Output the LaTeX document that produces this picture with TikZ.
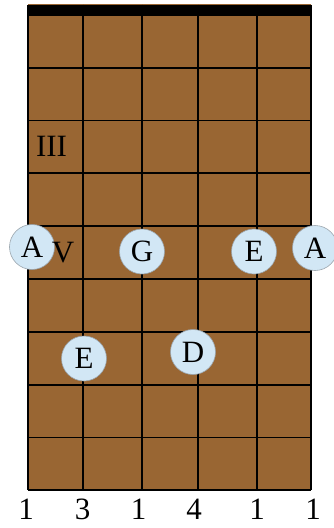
\documentclass[tikz,border=0pt]{standalone}
\usepackage{fontspec}
\setmainfont{Liberation Serif}
\definecolor{wood}{HTML}{996633}
\definecolor{notefill}{HTML}{D2E7F5}
\definecolor{noteline}{HTML}{9AA4AC}
\begin{document}
\begin{tikzpicture}[x=1pt,y=-1pt,
  gridline/.style={black,line width=1.7pt},
  note/.style={circle,fill=notefill,draw=noteline,line width=0.6pt,minimum size=45pt,inner sep=0pt,font=\fontsize{31}{31}\selectfont},
  lbl/.style={inner sep=0pt,font=\fontsize{31}{31}\selectfont}]
\useasboundingbox (0,0) rectangle (334,528);
\fill[wood] (28,4) rectangle (311.3,490);
% frets
\foreach \y in {68,120.5,173,226,279,332,385,437.5,490}
  \draw[gridline] (28,\y) -- (311.3,\y);
% strings
\foreach \x in {28,83.3,142.3,198.3,257.3,311.3}
  \draw[gridline] (\x,4.5) -- (\x,490);
% nut
\fill[black] (27.2,5) rectangle (312.1,15.5);
% position labels
\node[lbl] (pos3) at (51.5,146) {III};
% notes
\node[note] (nA1) at (32,247) {A};
\node[lbl] (pos5) at (63,252.5) {V};
\node[note] (nG) at (142,251.5) {G};
\node[note] (nE1) at (254,251.5) {E};
\node[note] (nA2) at (315,248) {A};
\node[note] (nE2) at (84,358.5) {E};
\node[note] (nD) at (193,352) {D};
% fingers
\node[lbl,anchor=base] (f1) at (26,519) {1};
\node[lbl,anchor=base] (f2) at (82.5,519) {3};
\node[lbl,anchor=base] (f3) at (138.5,519) {1};
\node[lbl,anchor=base] (f4) at (194,519) {4};
\node[lbl,anchor=base] (f5) at (257,519) {1};
\node[lbl,anchor=base] (f6) at (313,519) {1};
\end{tikzpicture}
\end{document}
